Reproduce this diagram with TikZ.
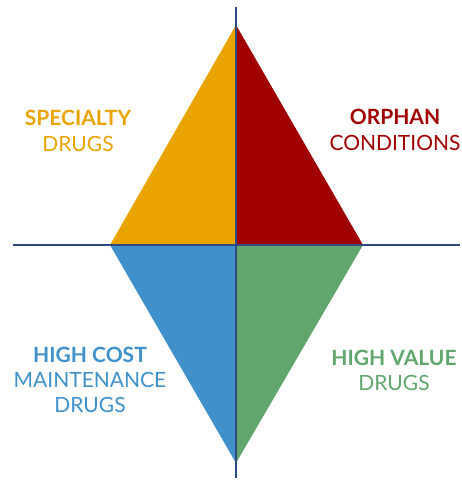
\documentclass[tikz,border=0pt]{standalone}
\usepackage{fontspec}
\setmainfont{Lato}
\usepackage{xcolor}
\usetikzlibrary{positioning}

\definecolor{specialtycol}{HTML}{E9A400}
\definecolor{orphancol}{HTML}{A10000}
\definecolor{costcol}{HTML}{3F90CB}
\definecolor{valuecol}{HTML}{61A76D}
\definecolor{axiscol}{HTML}{2E4A80}

\begin{document}
\begin{tikzpicture}[
        x=1pt, y=-1pt,
        node distance=25pt,
        axis/.style={draw=axiscol, line width=1.6pt},
        label_head/.style={font=\fontsize{21}{25}\selectfont\bfseries, inner sep=0pt, anchor=base},
        label_body/.style={font=\fontsize{21}{25}\selectfont, inner sep=0pt, anchor=base},
    ]
    \useasboundingbox (0,0) rectangle (462,481);
    \coordinate (top) at (236,25);
    \coordinate (bottom) at (236,463);
    \coordinate (left) at (110,245);
    \coordinate (right) at (363,245);
    \coordinate (centre) at (236,245);
    \fill[specialtycol] (top) -- (left) -- (centre) -- cycle;
    \fill[orphancol] (top) -- (right) -- (centre) -- cycle;
    \fill[costcol] (bottom) -- (left) -- (centre) -- cycle;
    \fill[valuecol] (bottom) -- (right) -- (centre) -- cycle;
    \coordinate (axis_top) at (236,7);
    \coordinate (axis_bottom) at (236,478);
    \coordinate (axis_left) at (13,245);
    \coordinate (axis_right) at (460,245);
    \draw[axis] (axis_top) -- (axis_bottom);
    \draw[axis] (axis_left) -- (axis_right);
    \node[label_head, text=specialtycol] (specialty) at (78,126) {SPECIALTY};
    \node[label_body, text=specialtycol, below=of specialty.base, anchor=base] (specialty_drugs) {DRUGS};
    \node[label_head, text=orphancol] (orphan) at (395,125) {ORPHAN};
    \node[label_body, text=orphancol, below=of orphan.base, anchor=base] (orphan_conditions) {CONDITIONS};
    \node[label_head, text=costcol] (high_cost) at (90,362) {HIGH COST};
    \node[label_body, text=costcol, below=of high_cost.base, anchor=base] (maintenance) {MAINTENANCE};
    \node[label_body, text=costcol, below=of maintenance.base, anchor=base] (cost_drugs) {DRUGS};
    \node[label_head, text=valuecol] (high_value) at (394,365) {HIGH VALUE};
    \node[label_body, text=valuecol, below=of high_value.base, anchor=base] (value_drugs) {DRUGS};
\end{tikzpicture}
\end{document}
